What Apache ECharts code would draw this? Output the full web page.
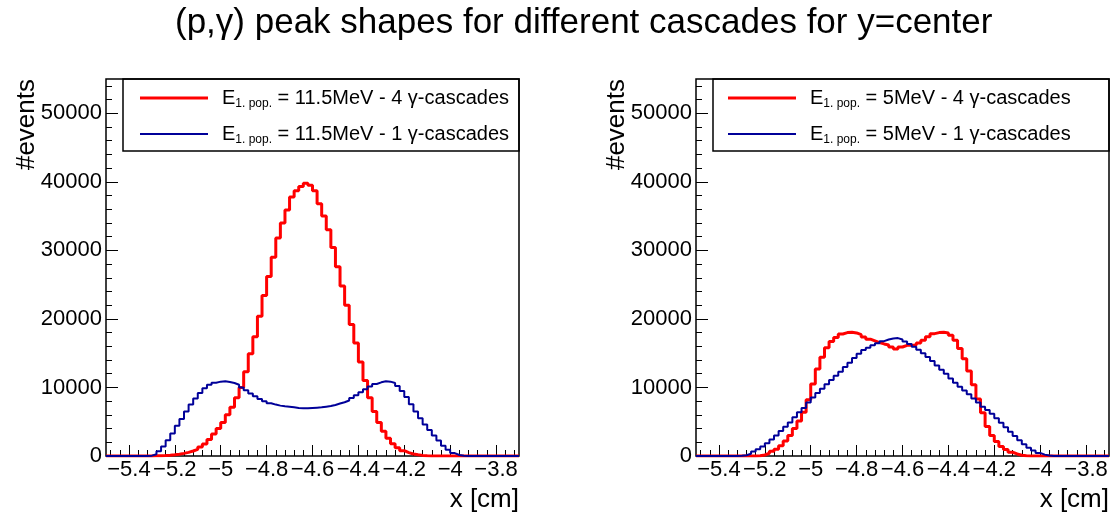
<!DOCTYPE html>
<html><head><meta charset="utf-8">
<script src="https://cdn.jsdelivr.net/npm/echarts@6/dist/echarts.min.js"></script>
<style>html,body{margin:0;padding:0;background:#fff}#c{width:1113px;height:513px}</style>
</head><body><div id="c"></div>
<script>
const chartTitle = '(p,γ) peak shapes for different cascades for y=center';
const xAxisTitle = 'x [cm]';
const yAxisTitle = '#events';
const binStart = -5.5;
const binWidth = 0.02;
const xMin = -5.5, xMax = -3.7, yMin = 0, yMax = 55000;
const xTicks = [-5.4, -5.2, -5.0, -4.8, -4.6, -4.4, -4.2, -4.0, -3.8];
const yTicks = [0, 10000, 20000, 30000, 40000, 50000];
const xMinorStep = 0.04;
const yMinorStep = 2000;

const namesLeft = ['11.5MeV - 4 γ-cascades', '11.5MeV - 1 γ-cascades'];
const namesRight = ['5MeV - 4 γ-cascades', '5MeV - 1 γ-cascades'];

// left panel: E = 11.5 MeV
const left4 = [0,0,0,0,0,0,0,0,0,
  10,20,40,60,110,170,260,380,530,730,980,1300,1750,2400,3200,4000,4900,6000,7100,8500,
  10000,12300,14900,17400,20400,23400,26200,29000,31800,34000,35900,37800,38700,39300,39800,39500,
  38700,36800,35000,33000,30400,27600,24800,22000,19200,16500,13700,11000,8500,6500,4900,3600,
  2600,1800,1200,780,500,300,170,90,40,15,
  0,0,0,0,0,0,0,0,0,0,0,0,0,0,0,0,0,0,0];
const left1 = [0,0,0,0,0,0,0,0,0,
  50,250,700,1400,2300,3300,4400,5400,6500,7500,
  8400,9200,9900,10400,10700,10850,10900,10800,10650,10400,
  10000,9600,9100,8700,8300,8000,7700,7500,7350,7250,
  7200,7100,7000,6950,6950,7000,7050,7100,7200,7300,
  7450,7650,7850,8100,8450,8850,9300,9750,10150,10500,
  10750,10900,10850,10650,10200,9500,8600,7550,6500,5500,
  4600,3800,3000,2250,1500,900,420,150,40,
  0,0,0,0,0,0,0,0,0,0,0,0];
// right panel: E = 5 MeV
const right4 = [0,0,0,0,0,0,0,0,0,0,0,0,0,
  30,150,400,700,1000,1500,2200,3000,4000,5100,
  6400,8200,10500,12700,14400,15800,16700,17300,17800,18000,
  18050,17950,17700,17350,17050,16800,16550,16350,16200,15900,
  15600,15900,16150,16150,16200,16500,16900,17400,17850,18000,
  18050,17950,17600,16900,15700,14200,12400,10400,8300,6300,
  4300,3000,2100,1400,950,550,300,120,40,
  0,0,0,0,0,0,0,0,0,0,0,0,0,0,0,0,0,0];
const right1 = [0,0,0,0,0,0,0,0,0,
  20,120,330,650,1000,1400,1850,2400,3000,3650,
  4250,4900,5650,6400,7000,7800,8550,9200,9800,10450,
  11100,11700,12300,13000,13600,14300,14900,15450,15800,16150,
  16450,16750,17000,17150,17200,17000,16700,16350,15950,15500,
  15000,14450,13850,13200,12600,12000,11300,10700,10100,9550,
  9000,8400,7800,7200,6700,6150,5500,4850,4200,3550,
  2900,2300,1700,1200,800,450,200,60,10,
  0,0,0,0,0,0,0,0,0,0,0,0];

const FONT = "'Liberation Sans', Arial, Helvetica, sans-serif";
const RED = '#ff0000', BLUE = '#000099';

function hist(arr) {
  const pts = arr.map((v, i) => [+(binStart + i * binWidth).toFixed(4), v]);
  pts.push([+(binStart + arr.length * binWidth).toFixed(4), arr[arr.length - 1]]);
  return pts;
}
function range(a, b, step) {
  const out = [];
  for (let v = a; v <= b + 1e-9; v += step) out.push(+v.toFixed(6));
  return out;
}
const xMinor = range(xTicks[0] - 2 * xMinorStep, xMax, xMinorStep).filter(v => v > xMin && v < xMax);
const yMinor = range(yMin, yMax, yMinorStep).filter(v => v > yMin && v < yMax);

const grids = [
  {left: 106, top: 79, width: 413, height: 377},
  {left: 696, top: 79, width: 413, height: 377}
];

const xAxes = [], yAxes = [];
grids.forEach((g, gi) => {
  xAxes.push({
    type: 'value', gridIndex: gi, min: xMin, max: xMax, position: 'bottom',
    axisLine: {show: false, onZero: false}, splitLine: {show: false},
    axisTick: {show: true, inside: true, length: 11, customValues: xTicks, lineStyle: {color: '#000', width: 1}},
    axisLabel: {show: true, customValues: xTicks, margin: 3, fontSize: 22, color: '#000', fontFamily: FONT,
      formatter: v => String(+(+v).toFixed(1)).replace('-', '\u2212')}
  });
  xAxes.push({
    type: 'value', gridIndex: gi, min: xMin, max: xMax, position: 'bottom',
    axisLine: {show: false, onZero: false}, splitLine: {show: false},
    axisTick: {show: true, inside: true, length: 6, customValues: xMinor, lineStyle: {color: '#000', width: 1}},
    axisLabel: {show: false}
  });
  yAxes.push({
    type: 'value', gridIndex: gi, min: yMin, max: yMax, position: 'left',
    axisLine: {show: false, onZero: false}, splitLine: {show: false},
    axisTick: {show: true, inside: true, length: 12, customValues: yTicks, lineStyle: {color: '#000', width: 1}},
    axisLabel: {show: true, customValues: yTicks, margin: 4, fontSize: 22, color: '#000', fontFamily: FONT,
      formatter: v => String(v)}
  });
  yAxes.push({
    type: 'value', gridIndex: gi, min: yMin, max: yMax, position: 'left',
    axisLine: {show: false, onZero: false}, splitLine: {show: false},
    axisTick: {show: true, inside: true, length: 6, customValues: yMinor, lineStyle: {color: '#000', width: 1}},
    axisLabel: {show: false}
  });
});

function lineSeries(name, arr, color, width, axisIdx) {
  return {
    name, type: 'line', step: 'end', symbol: 'none', showSymbol: false,
    xAxisIndex: axisIdx, yAxisIndex: axisIdx,
    data: hist(arr), color,
    lineStyle: {color, width}, itemStyle: {color},
    emphasis: {disabled: true}, silent: true, animation: false, z: width === 3 ? 3 : 4
  };
}

const legendRich = {
  m: {fontSize: 20, lineHeight: 24, color: '#000', fontFamily: FONT},
  s: {fontSize: 12, lineHeight: 10, verticalAlign: 'bottom', color: '#000', fontFamily: FONT}
};
function legendFor(name, color, thick, left, top) {
  return {
    orient: 'vertical', left, top, padding: 0, itemGap: 0,
    itemWidth: 68, itemHeight: thick, selectedMode: false,
    data: [{name, icon: 'rect', itemStyle: {color, borderWidth: 0}}],
    formatter: n => '{m|E}{s|1. pop.}{m| = ' + n + '}',
    textStyle: {rich: legendRich, padding: [0, 0, 0, 9], color: '#000'}
  };
}

const graphics = [];
[[123, 79], [713, 79]].forEach(([x, y], i) => {
  graphics.push({type: 'rect', silent: true, z: 10,
    shape: {x, y, width: (i === 0 ? 519 : 1109) - x, height: 72},
    style: {fill: 'transparent', stroke: '#000', lineWidth: 1.5}});
});
[[27, 79], [617, 79]].forEach(([x, y]) => {
  graphics.push({type: 'text', x, y, rotation: Math.PI / 2, silent: true,
    style: {text: yAxisTitle, fontSize: 26, fontFamily: FONT, fill: '#000', align: 'right', verticalAlign: 'middle'}});
});
[519, 1109].forEach(x => {
  graphics.push({type: 'text', x, y: 500, silent: true,
    style: {text: xAxisTitle, fontSize: 26, fontFamily: FONT, fill: '#000', align: 'right', verticalAlign: 'middle'}});
});

const chart = echarts.init(document.getElementById('c'), null, {renderer: 'canvas'});
chart.setOption({
  animation: false,
  backgroundColor: '#fff',
  title: {text: chartTitle, left: 175, top: 6, padding: 0,
    textStyle: {fontSize: 35, fontWeight: 'normal', color: '#000', fontFamily: FONT}},
  grid: grids.map(g => Object.assign({show: true, borderColor: '#000', borderWidth: 1.5,
    backgroundColor: 'transparent', containLabel: false, outerBoundsMode: 'none'}, g)),
  xAxis: xAxes,
  yAxis: yAxes,
  legend: [
    legendFor(namesLeft[0], RED, 3, 140, 88),
    legendFor(namesLeft[1], BLUE, 2, 140, 124),
    legendFor(namesRight[0], RED, 3, 728, 88),
    legendFor(namesRight[1], BLUE, 2, 728, 124)
  ],
  graphic: graphics,
  series: [
    lineSeries(namesLeft[0], left4, RED, 3, 0),
    lineSeries(namesLeft[1], left1, BLUE, 2, 0),
    lineSeries(namesRight[0], right4, RED, 3, 2),
    lineSeries(namesRight[1], right1, BLUE, 2, 2)
  ]
});
</script></body></html>
